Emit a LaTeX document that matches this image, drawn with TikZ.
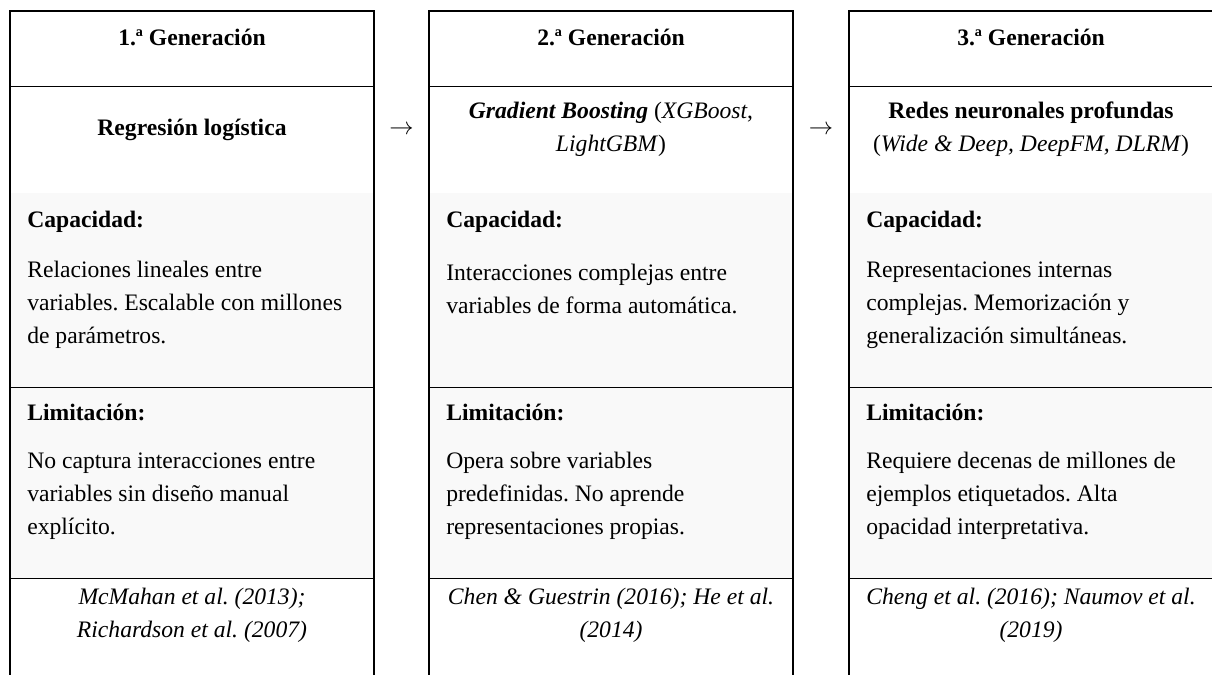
\documentclass[tikz,border=0pt]{standalone}
\usepackage{fontspec}
\setmainfont{Liberation Serif}
\usepackage{xcolor}
\usetikzlibrary{positioning}

\definecolor{bandgray}{RGB}{249,249,249}
\newcommand{\genfont}{\fontsize{16.8pt}{23.5pt}\selectfont\frenchspacing}

\begin{document}
\begin{tikzpicture}[x=0.025cm, y=-0.025cm,
    head/.style={font=\genfont\bfseries, inner sep=0pt, align=center},
    model/.style={font=\genfont, inner sep=0pt, align=center},
    sechead/.style={font=\genfont\bfseries, inner sep=0pt, anchor=west},
    body/.style={font=\genfont, inner sep=0pt, align=left, anchor=west},
    cite/.style={font=\genfont\itshape, inner sep=0pt, align=center},
    frame/.style={line width=1.4pt},
    rule/.style={line width=0.7pt}
]
    \useasboundingbox (0,0) rectangle (1212,675);

    % Grey bands and column frames
    \foreach \x in {10,429,849} {
        \fill[bandgray] (\x,193) rectangle ({\x+364},578);
        \draw[rule] (\x,86) -- ({\x+364},86);
        \draw[rule] (\x,387) -- ({\x+364},387);
        \draw[rule] (\x,578) -- ({\x+364},578);
        \draw[frame] (\x,675) -- (\x,11) -- ({\x+364},11) -- ({\x+364},675);
    }

    % First generation
    \node[head] (gen1) at (192,37) {1.ª Generación};
    \node[head] (model1) at (192,130) {Regresión logística};
    \node[sechead] (capT1) at (27,222) {Capacidad:};
    \node[body] (cap1) at (27,305) {Relaciones lineales entre\\variables. Escalable con millones\\de parámetros.};
    \node[sechead] (limT1) at (27,412) {Limitación:};
    \node[body] (lim1) at (27,496) {No captura interacciones entre\\variables sin diseño manual\\explícito.};
    \node[cite] (ref1) at (192,615.5) {McMahan et al. (2013);\\Richardson et al. (2007)};

    % Second generation
    \node[head] (gen2) at (611,37) {2.ª Generación};
    \node[model] (model2) at (611,129.5) {\textbf{\textit{Gradient Boosting}} (\textit{XGBoost},\\\textit{LightGBM})};
    \node[sechead] (capT2) at (446,222) {Capacidad:};
    \node[body] (cap2) at (446,288.5) {Interacciones complejas entre\\variables de forma automática.};
    \node[sechead] (limT2) at (446,412) {Limitación:};
    \node[body] (lim2) at (446,496) {Opera sobre variables\\predefinidas. No aprende\\representaciones propias.};
    \node[cite] (ref2) at (611,615.5) {Chen \& Guestrin (2016); He et al.\\(2014)};

    % Third generation
    \node[head] (gen3) at (1031,37) {3.ª Generación};
    \node[model] (model3) at (1031,129.5) {\textbf{Redes neuronales profundas}\\(\textit{Wide \& Deep, DeepFM, DLRM})};
    \node[sechead] (capT3) at (866,222) {Capacidad:};
    \node[body] (cap3) at (866,305) {Representaciones internas\\complejas. Memorización y\\generalización simultáneas.};
    \node[sechead] (limT3) at (866,412) {Limitación:};
    \node[body] (lim3) at (866,496) {Requiere decenas de millones de\\ejemplos etiquetados. Alta\\opacidad interpretativa.};
    \node[cite] (ref3) at (1031,615.5) {Cheng et al. (2016); Naumov et al.\\(2019)};

    % Arrows between generations
    \node[model] (arr12) at (401.5,130) {$\rightarrow$};
    \node[model] (arr23) at (821,130) {$\rightarrow$};
\end{tikzpicture}
\end{document}
